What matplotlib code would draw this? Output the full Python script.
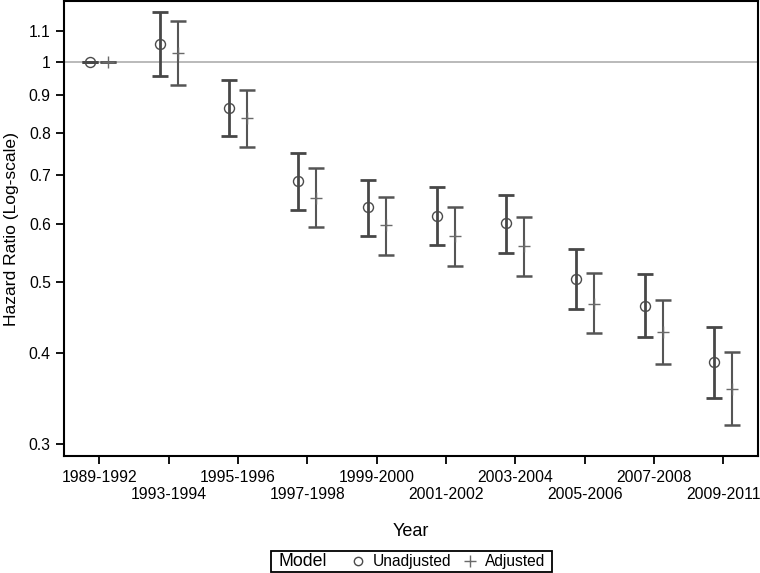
import numpy as np
import matplotlib
matplotlib.use("Agg")
import matplotlib.pyplot as plt
from matplotlib.lines import Line2D
from matplotlib.patches import Rectangle
from matplotlib.ticker import FixedLocator, NullLocator

plt.rcParams["font.family"] = ["Liberation Sans", "DejaVu Sans"]

years = ["1989-1992", "1993-1994", "1995-1996", "1997-1998", "1999-2000",
         "2001-2002", "2003-2004", "2005-2006", "2007-2008", "2009-2011"]

unadj_hr = [1.0, 1.057, 0.864, 0.686, 0.632, 0.616, 0.601, 0.505, 0.464, 0.388]
unadj_lo = [1.0, 0.956, 0.792, 0.627, 0.577, 0.562, 0.548, 0.459, 0.420, 0.347]
unadj_hi = [1.0, 1.169, 0.943, 0.751, 0.689, 0.674, 0.658, 0.555, 0.512, 0.434]

adj_hr = [1.0, 1.029, 0.837, 0.651, 0.598, 0.577, 0.559, 0.467, 0.427, 0.357]
adj_lo = [1.0, 0.929, 0.764, 0.594, 0.544, 0.526, 0.509, 0.425, 0.386, 0.319]
adj_hi = [1.0, 1.138, 0.916, 0.715, 0.653, 0.633, 0.614, 0.514, 0.472, 0.401]

y_ticks = [0.3, 0.4, 0.5, 0.6, 0.7, 0.8, 0.9, 1, 1.1]
y_tick_labels = ["0.3", "0.4", "0.5", "0.6", "0.7", "0.8", "0.9", "1", "1.1"]

W, H = 760, 573
fig = plt.figure(figsize=(W / 100, H / 100), dpi=100)
ax = fig.add_axes([0.0842, 0.2042, 0.9132, 0.7938])

x = np.arange(len(years))
off = 0.13

ax.axhline(1.0, color="#b4b4b4", lw=1.3, zorder=1)

# unadjusted
u = np.array(unadj_hr)
ax.errorbar(x - off, u, yerr=[u - np.array(unadj_lo), np.array(unadj_hi) - u],
            fmt="none", ecolor="#474747", elinewidth=2.0, capsize=5.8, capthick=2.0,
            zorder=2)
ax.plot(x - off, u, linestyle="none", marker="o", markersize=7.2,
        markerfacecolor="none", markeredgecolor="#4a4a4a", markeredgewidth=1.0,
        zorder=3)

# adjusted
a = np.array(adj_hr)
ax.errorbar(x + off, a, yerr=[a - np.array(adj_lo), np.array(adj_hi) - a],
            fmt="none", ecolor="#555555", elinewidth=1.5, capsize=5.8, capthick=1.8,
            zorder=2)
ax.plot(x + off, a, linestyle="none", marker="+", markersize=8,
        markeredgecolor="#6a6a6a", markeredgewidth=1.0, zorder=3)

ax.set_yscale("log")
ax.set_ylim(0.289, 1.21)
ax.set_xlim(-0.51, 9.5)
ax.yaxis.set_major_locator(FixedLocator(y_ticks))
ax.yaxis.set_minor_locator(NullLocator())
ax.set_yticklabels(y_tick_labels)

ax.set_xticks(x)
ax.set_xticklabels([y if i % 2 == 0 else "\n" + y for i, y in enumerate(years)])
ax.tick_params(axis="both", direction="out", length=6, width=1.3,
               labelsize=11.3, color="black")
ax.tick_params(axis="x", pad=4)
for s in ax.spines.values():
    s.set_linewidth(1.5)

ax.set_ylabel("Hazard Ratio (Log-scale)", fontsize=12.6, labelpad=7)
ax.set_xlabel("Year", fontsize=13, labelpad=15)

# legend box: "Model" label + two entries
fig.patches.append(Rectangle((271 / W, 1 / H), 281 / W, 21 / H,
                             transform=fig.transFigure, fill=False,
                             edgecolor="black", linewidth=1.3))
fig.text(278 / W, 11.5 / H, "Model", fontsize=12.8, ha="left", va="center")
handles = [
    Line2D([], [], linestyle="none", marker="o", markersize=6,
           markerfacecolor="none", markeredgecolor="#4a4a4a"),
    Line2D([], [], linestyle="none", marker="+", markersize=9,
           markeredgecolor="#6a6a6a"),
]
fig.legend(handles, ["Unadjusted", "Adjusted"], ncol=2,
           loc="center left", bbox_to_anchor=(350 / W, 11.5 / H),
           fontsize=11.2, frameon=False, handlelength=1.0,
           handletextpad=0.45, columnspacing=0.7, borderpad=0.0,
           borderaxespad=0.0)

fig.savefig("out.png", dpi=100)
